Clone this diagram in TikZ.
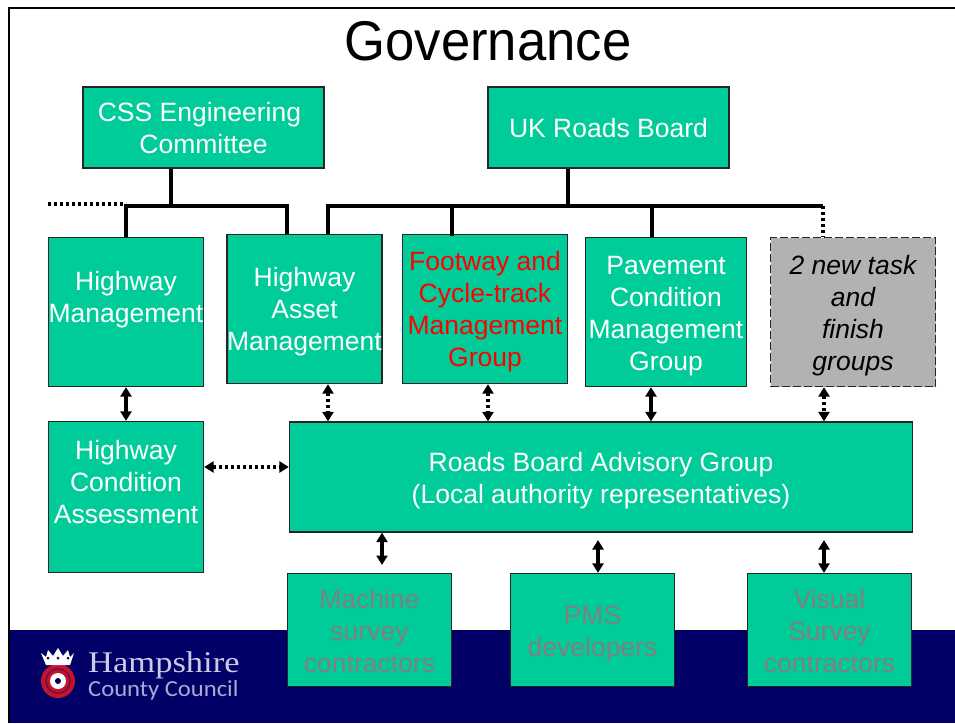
\documentclass[tikz,border=0pt]{standalone}
\usepackage{fontspec}
\setmainfont{Liberation Sans}
\newfontfamily\logoserif{Liberation Serif}
\newfontfamily\logosans{Carlito}
\usetikzlibrary{arrows.meta}
\definecolor{boxgreen}{HTML}{00CC99}
\definecolor{bandnavy}{HTML}{000066}
\definecolor{mutedtext}{HTML}{808080}
\definecolor{greybox}{HTML}{B2B2B2}
\definecolor{logotext}{HTML}{C8CCE8}
\definecolor{logotextb}{HTML}{A8ACD4}
\definecolor{crestred}{HTML}{C4142C}
\definecolor{crestdark}{HTML}{7A1040}
\tikzset{
  x=1pt,y=-1pt,
  gbox/.style={draw=black!85,line width=1.3pt,fill=boxgreen,inner sep=0pt,align=center,text=white,font=\fontsize{26.5}{32}\selectfont},
  redtext/.style={text=red},
  muted/.style={text=mutedtext},
  tbar/.style={line width=3.4pt,line cap=butt},
  dotbar/.style={line width=3.2pt,dash pattern=on 3pt off 3pt},
  solidlink/.style={line width=3.6pt,{Triangle[length=9.5pt,width=11pt]}-{Triangle[length=9.5pt,width=11pt]}},
  dotlink/.style={line width=3.2pt,dash pattern=on 3pt off 3pt,{Triangle[length=9.5pt,width=11pt]}-{Triangle[length=9.5pt,width=11pt]}},
}
\newcommand{\tpad}[1]{\rule{0pt}{#1pt}}
\begin{document}
\begin{tikzpicture}
\useasboundingbox (0,0) rectangle (955,723);
\fill[white] (0,0) rectangle (955,723);
\fill[bandnavy] (9,630) rectangle (955,723);
\draw[line width=2.4pt] (8.7,723) -- (8.7,8) -- (955,8);
\node[font=\fontsize{56}{60}\selectfont,inner sep=0pt] (title) at (488,41) {\scalebox{0.94}[1]{Governance}};

\node[gbox,minimum width=241pt,minimum height=81pt] (css) at (203.5,127.5) {\tpad{21}CSS Engineering\hspace*{8pt}\\Committee};
\node[gbox,minimum width=241pt,minimum height=81pt] (uk) at (608.5,127.5) {\tpad{21}UK Roads Board};
\node[gbox,minimum width=155pt,minimum height=149pt] (hm) at (126,312) {Highway\\Management\\[-2pt]};
\node[gbox,minimum width=155pt,minimum height=149pt] (ham) at (304.5,309) {\tpad{25}Highway\\Asset\\Management};
\node[gbox,redtext,minimum width=165pt,minimum height=149pt] (fc) at (485,309) {\tpad{25}Footway and\\Cycle-track\\Management\\Group};
\node[gbox,minimum width=161pt,minimum height=149pt] (pc) at (666,312) {\tpad{27}Pavement\\Condition\\Management\\Group};
\node[draw=black!85,line width=1.3pt,dash pattern=on 8pt off 3pt,fill=greybox,inner sep=0pt,align=center,minimum width=165pt,minimum height=149pt,font=\fontsize{26.5}{32}\selectfont\itshape] (task) at (853,312) {\tpad{27}2 new task\\and\\finish\\groups};
\node[gbox,minimum width=155pt,minimum height=151pt] (hca) at (126,497) {Highway\\Condition\\Assessment\\[-2pt]};
\node[gbox,minimum width=623pt,minimum height=110pt] (rb) at (601,477) {\tpad{27}Roads Board Advisory Group\\(Local authority representatives)};
\node[gbox,muted,minimum width=164pt,minimum height=113pt] (ms) at (369.5,630) {\tpad{21}Machine\\survey\\contractors};
\node[gbox,muted,minimum width=164pt,minimum height=113pt] (pms) at (592.5,630) {\tpad{27}PMS\\developers};
\node[gbox,muted,minimum width=164pt,minimum height=113pt] (vs) at (829.5,630) {\tpad{21}Visual\\Survey\\contractors};

% upper bus bars
\coordinate (cssfoot) at (171,206);
\coordinate (lbusL) at (126,206);
\coordinate (lbusR) at (287,206);
\coordinate (lbusDot) at (48,204);
\coordinate (ukfoot) at (568,206);
\coordinate (rbusL) at (328,206);
\coordinate (rbusR) at (823,206);
\coordinate (fcbus) at (452,206);
\coordinate (fcend) at (452,236);
\coordinate (pcbus) at (652,206);
\draw[tbar] (css.south -| cssfoot) -- (cssfoot);
\draw[tbar] (uk.south -| ukfoot) -- (ukfoot);
\draw[tbar] (hm.north -| lbusL) -- (lbusL) -- (lbusR) -- (ham.north -| lbusR);
\draw[tbar] (ham.north -| rbusL) -- (rbusL) -- (rbusR);
\draw[tbar] (fcbus) -- (fcend);
\draw[tbar] (pcbus) -- (pc.north -| pcbus);
\draw[dotbar] (lbusDot) -- (lbusL |- lbusDot);
\draw[dotbar] (rbusR) -- (task.north -| rbusR);

% double arrows
\coordinate (xham) at (328,0);
\coordinate (xfc) at (488,0);
\coordinate (xpc) at (651,0);
\coordinate (xtask) at (824,0);
\coordinate (yhoriz) at (0,467);
\coordinate (xms) at (382,565);
\coordinate (xpms) at (598,540);
\coordinate (xvs) at (824,540);
\draw[solidlink] (hm.south) -- (hca.north);
\draw[dotlink] (ham.south -| xham) -- (rb.north -| xham);
\draw[dotlink] (fc.south -| xfc) -- (rb.north -| xfc);
\draw[solidlink] (pc.south -| xpc) -- (rb.north -| xpc);
\draw[dotlink] (task.south -| xtask) -- (rb.north -| xtask);
\draw[dotlink] (hca.east |- yhoriz) -- (rb.west |- yhoriz);
\draw[solidlink] (rb.south -| xms) -- (xms);
\draw[solidlink] (xpms) -- (pms.north -| xpms);
\draw[solidlink] (xvs) -- (vs.north -| xvs);

% logo
\fill[crestred] (58,681) circle (17pt);
\fill[crestdark] (58,681) circle (13pt);
\fill[crestred] (58,681) circle (11pt);
\fill[white] (58,681) circle (8pt);
\fill[bandnavy!70!black] (58,681) circle (3pt);
\fill[white] (41,653) -- (46,657) -- (48,650) -- (53,656) -- (58,648) -- (63,656) -- (68,650) -- (70,657) -- (74,653) -- (70,665) -- (46,665) -- cycle;
\foreach \cx in {48,58,68} \fill[bandnavy!80!black] (\cx,658) circle (1.5pt);
\node[anchor=base west,inner sep=0pt,text=logotext,font=\logoserif\fontsize{30}{30}\selectfont] (logoa) at (88,672) {\scalebox{1.15}[1]{Hampshire}};
\node[anchor=base west,inner sep=0pt,text=logotextb,font=\logosans\fontsize{23}{24}\selectfont] (logob) at (88,696) {\scalebox{1.07}[1]{County Council}};
\end{tikzpicture}
\end{document}
